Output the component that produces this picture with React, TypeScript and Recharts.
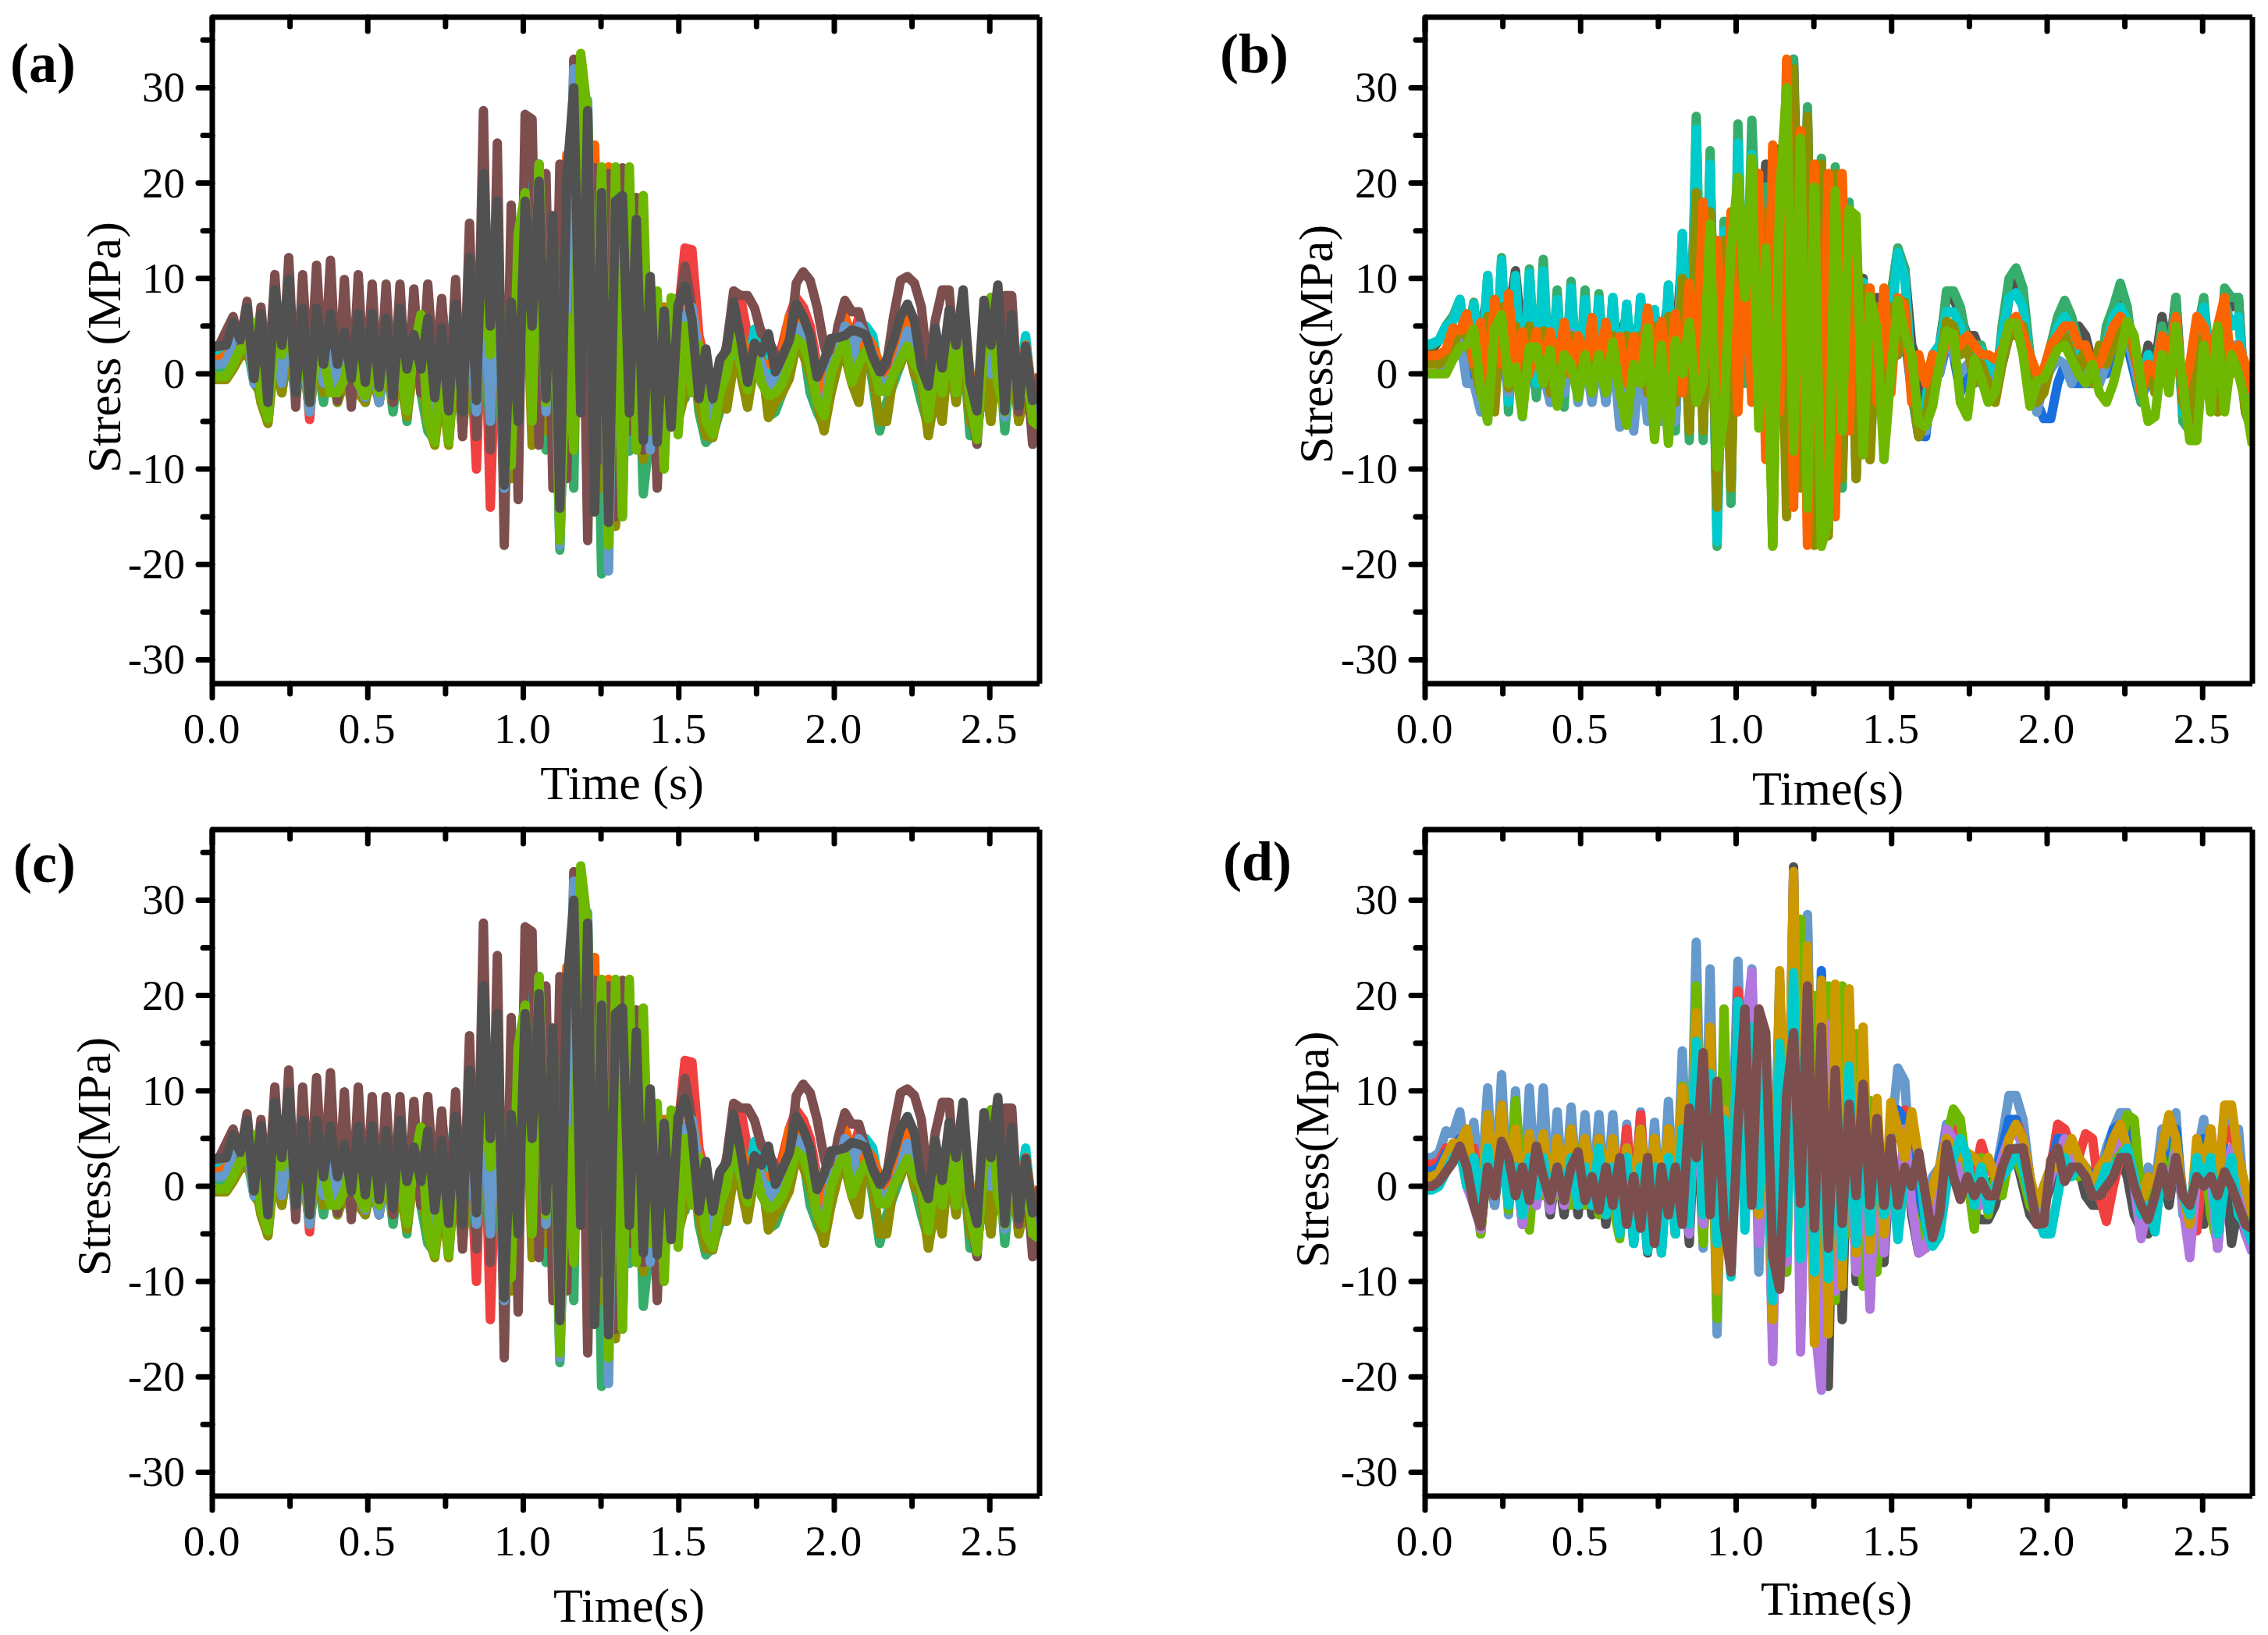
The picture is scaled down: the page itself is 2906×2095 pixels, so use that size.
import { LineChart, Line, XAxis, YAxis } from "recharts";

// sampled every TIME_END/119 s, six rows of twenty readings per series
const TIME_END = 2.66;
const xTicks = [0, 0.25, 0.5, 0.75, 1, 1.25, 1.5, 1.75, 2, 2.25, 2.5];
const yTicks = [-30, -25, -20, -15, -10, -5, 0, 5, 10, 15, 20, 25, 30, 35];

const BLUE = "#1a6fdf", RED = "#f14040", SEA = "#37ad6b", PURPLE = "#b177de", GOLD = "#cc9900";
const CYAN = "#00cbcc", BROWN = "#7d4e4e", OLIVE = "#8e8e00", ORANGE = "#fb6501", STEEL = "#6699cc";
const LIME = "#6fb802", GRAY = "#515151";

// panels (a) and (c)
const aRed = [
  2.3,2.3,2.5,4,4,5,1,3,-1,5,-1,5,-1,5,-4.8,4,7,-1,5,0,
  -2,4,-1,3,-2,4,-1,3,-2,3,0,3,-1,4,0,3,-1,5,-10,12,
  -14,10,-12,5,10,12,3,17,-3,12,-8,20,-5,26,-6,20,-9,17,-10,15,
  -4,12,-5,8,-3,6,-2,6,13.2,13,4,1,-6.5,-2,3,7,8,4,3,1,
  -1,1,3,6,8,7,5,1,-4,0,2,3,3,6,3,2,-1,-1,1,3,
  6,4,1,-3,2,0,4,1,5,-1,-5,3,1,5,-1,4,-2,2,-2,-3,
];
const aSea = [
  1,.5,1,2,2.5,3,-1,-2,-5.2,3,-2,3,-2.6,2,-4,2,-3,2,-3,1,
  -3,1,-3,2,-3,2,-4,2,-5,3,-2,-6,-7,2,-7,2,-6,3,-6,8,
  -7,7,-13,-6,2,14,-2,12,-8,11,-18.5,8,-12,30,-15,18,-21,15,-15.6,10,
  -8.1,10,-12.6,-6,4,-6,5,-3,-2.6,4,-4,-7.2,-6.4,-4,-3,2,2,-3.5,4,2,
  -4.5,-4,-2,0,4,3,-2,-4,-5.5,-2,1,3,0,5,3.5,-1,-6,-3,-1,1,
  3,0,-3,-5.5,-3,-4,2,-3,3,-6.5,-6.5,0,-5,4,-6,2,-5,0,-6,-6,
];
const aCyan = [
  1.9,1.9,2,2.5,4,5,1,3,0,4,0,5,1,3,1,3,0,3,4.3,2,
  4,1,1,2,1,2,1,3.5,1,2,1,3,2,7.2,1,3,1,3,1,7.5,
  1,6,-5,1,8,9,20,22,8,10,-3,15,-7,30,-5,21,-5,21,-3,15,
  0,10,-3,9.2,-3,7,-1,5,3,5,1,0,-5,-1,0,4,3.5,0,4.7,4.5,
  0,-1,0,3,5,5,3,1,-1,1,2.5,3,3,4,5,4,0,-2,1,3,
  7.3,5,1,-1,3,1,5,1,6,0,-3,4,1,5,-3,5,-1,4,-3,-5,
];
const aOlive = [
  -.6,-.6,-.6,.5,1.8,2,1,-3,-5.2,2,-2,3,-2,2,-4,2,-2,1,-3,-1,
  0,-2,-3,0,-3,1,-3,-.5,-4.5,1,0,-5,-7.5,-1,-7.5,2,-6,2,-4,7,
  -5,8,-10,-11,6,15,-7.5,14,-6,10,-12,9,-8,24,-9,17,-12,15,-16,8,
  -4,6,-9,-5,2,-8,3,-5,-2,4,-3,-6.5,-6.7,-3,-3.7,1,0,-3.5,1,1.5,
  -4.6,-3,-2,-.5,3,2,0,-3,-6,-2,1,2,-1,-3,4,0,-5,-5,0,1,
  3,0,-1,-6.5,-2,-5,3,-3,3,-5,-6,0,-5,3,-3,3,-5,-2,-5,-6,
];
const aOrange = [
  1.5,1.5,2,3.5,5,4,4,0,1,6.5,0,6,2,6,1,5,1,5,2,5,
  1,5,0,3,2,3,1,4,1,5,3,4,1,5,1,4,-2,8,0,17,
  -3,16,-10,5,0,17,10,20,-3,11,-8,23,-5,31,-6,24,-7,21.7,-13,20,
  -5,15,-5,8,-3,7,-4,8,3,7.5,3,2,-5,0,2,5,4,2,3,1,
  1,1.5,2,6,6,5,3,1,-2,1,3,6,4,3,4,3,1,0,1,3,
  6,4,2,-2,3,1,5,2,7,0,-3,4,1,5,-2,5,-2,3,-2,-3,
];
const aBrown = [
  2.7,3,4.5,6,3,7.6,0,7,-1,10.4,-1,12.2,-3.5,10.4,-2,11.4,-1,11.9,-2.8,9.9,
  -3.5,10.4,-2.5,9.4,-3,9.4,-3,9.4,-3,8.9,-2,9.4,-1,7.9,-3,9.9,-6.6,15.8,-6.6,27.6,
  -8,24.2,-18,17.7,-13.2,27.2,26.7,-7.5,21,-12,22,-11,33,26,-17.5,21.6,-9,21,-15,21.6,
  -6,18.5,-8,7,-12,6,-4,6.5,11.3,7,1,2.5,-5.5,0,3,8.7,8.2,8.2,6.9,4.2,
  3.5,2,1.8,3,9.5,10.7,9.8,7,3,.5,5,7.7,6.5,6.5,4,2,0,1,6,9.8,
  10.2,9.5,7,0,5.6,8.8,8.8,-1,6.7,-3,-7.4,3,8,0,8.2,8.2,-4,2,-7.4,0,
];
const aSteel = [
  1,1,1.2,3.5,4,5,-1,-1,-4,4,-1,6,-2,3,-4,3,-1,3,-1.5,1,
  2,-1,-2.5,2,-3,3,-2,3,-3,3,3,-1,-4,3,-5,4,-3,7,-4,12,
  -5,14,-12,-3,3,15,-1,22,-4,16,-18,8,32,-3,28.7,-12,21,-20.7,19,-15,
  18,-5,16,-8,8,-8,7,-6,6,7,2,-3,-5,-2,1,6,3,-1,3,1,
  -2,0,1,3,5,4,2,-3,-4,1,2,5,1,5,4,2,-1,-1,0,2,
  4.5,3,0,-3,2,0,6,-1,7,-3,-5,5,0,7,-4.5,5,-3,2,-4,-4.5,
];
const aLime = [
  -.3,-.3,-.3,1,2.6,2.6,5.4,-2.3,-4.7,3.5,2,7.5,-1.4,2.9,-3,1.8,1.8,-2,-2,-.6,
  2.9,-1,-2.3,1,-2,2,-1.5,1,-3.9,2.4,6.2,-5,-7.2,3,-7.2,4,-3,6.7,3,10,
  2,15.5,-9,-9.6,14.7,19,-5,22,-3,16,-17.5,6,-8,33.6,27.2,-8,21.7,-18,21.7,-15,
  21.7,-8,18.7,-6,8.7,-10,8,-6.4,5,-2,3,-5,-6.4,-2,0,5,1,-1.7,2,-1,
  -2.3,-2,-1,1,3.7,3,1,-3,-4.4,0,2,3.6,-.9,1,2.4,1,-1.85,-1.85,0,1.5,
  2.9,1,0,-4.7,1,-2,3,-2,5,-3,-6.9,2,8,-1,-4,3,-2,1,-5,-5.5,
];
const aGray = [
  2.9,2.9,3,5.4,3.6,6.9,-.5,6.3,-3,8.8,3,9.9,-2,6.9,-3,6.9,1,6.3,1,4.4,
  -.5,6.3,-.9,6.3,-1.4,5.8,-2.3,6.9,.5,4.1,.5,5.8,-2.5,4.8,-3.9,7.3,-4,12.2,-2.8,21,
  5,18.1,-11.7,7.5,-5,18.1,5,20.2,-2.6,16.6,-14.1,20.6,30,-4.1,27.6,-14.5,19,-15.6,18.1,18.7,
  -4.1,16.2,-7,10.2,-7.2,6.6,-5.6,7.2,9.2,5.7,-2.6,2.6,-2.6,1.5,2.5,7.5,3.7,-.9,3.2,2.2,
  4.2,.2,1.8,3.5,7.3,6,4,-.35,1.3,3.7,3.8,4,4.6,4.4,4.1,1.8,.2,1.5,3.5,6,
  7.3,5.6,.7,-1.3,4.8,.6,6.7,3,8.8,-.9,-3.9,7.7,3,9.3,-3.9,6.2,-3.4,2.9,-2.8,-2.3,
];

// panel (b)
const bBlue = [
  0,0,0,1,2.5,3,0,-1,-3,3,-1,3,-2,2,-3,2,-2,2,-2,2,
  -1,2,-2,2,-2,2,-2,3,-3,3,-3,6.9,-4,3,-5,5,-3,6,-4,12,
  -3,14,-14,6,-7,16,12,16,9,13,-10,14,-8,18,-8,19,-10,16,-9,15,
  -8,12,-7,6,-4,4,-3,4,2,4,-2,-6.5,-6.6,0,0,3,2,-2,0,0,
  -1,-1,-1,1,4,5,3,-1,-3,-4.7,-4.7,-1,1,-1,-1,-1,-1,0,0,2,
  3,3,0,-3,0,-1,2,-1,4,-2,-4,1,4,-1,-2,3,2,2,-3,-4,
];
const bGray = [
  2,2.5,3.5,5,6,6.5,5,6,5,8,4,9,6,10.8,3,8.9,3,8.4,2,6,
  2,6,2,6.3,2,6,2,6.3,3,6.3,2,6,3,5.5,3,7.8,2,13.3,3,21,
  3,21,-6,14,11,15,9.5,18,9,22,-4,23.6,-5,33,5,27,-7,22.5,-8,20,
  3,17,3,10,-2,8,0,8,13,11,3,1,-4,2,3,8,8,6,4,4,
  2,1,0,3,8,10,7,2,-3,0,3,5,5.5,4,5,4,1,1,4,6,
  8,6,3,-1,3,1,6,2,8,-3,-4,4,7,1,-2,8,7,8,-4,-6,
];
const bSea = [
  2.9,3,3.5,5,6,7.8,3,7.5,-1,10.3,-3,12.2,-4,10.3,-4.5,11,-2.5,12,-3,8.8,
  -3.5,9.7,-3,8.8,-2.8,8.4,-3,8,-3,7.3,-3,8,-3,6.7,-5,9.3,-6,14.7,-7,27,
  -7,23.4,-18.1,16,-13.6,26.2,-1,26.6,8,19.6,-18,21.5,-12,33,-10,28,-17,22.6,-14,21.7,
  -12,18,-11,9.6,-9,7,-6,8,13.2,11,-2,-6.6,-5,1,2,8.7,8.7,7,3,3,
  3,0,-2,5,10,11.1,9,2,-4,0,3,6,7.7,6,3,3,-1,-1,5,7,
  9.5,7,1,-3,2,0,5,1,8,-5,-6,4,8,0,-3,9,8,8,-4,-6,
];
const bCyan = [
  3,3.2,3.5,5,5.5,7.8,2,7.3,0,10.3,-2,11.9,-3,10.3,-3.5,10.6,-1,10.8,-2,7.8,
  -2,9,-2,7.8,-2,7.8,-2,8,-2,7.3,-2,8,-2,6.7,-3,9.3,-5,14.7,-5,25.7,
  -6,22,-17.6,15,-12,24.2,2,23,10,16,-14,20,-10,25,-8,24,-13,19,-10,17,
  -9,14,-8,9.6,-5,6,-4,5,12.7,10,0,-5,-3,2,3,6.5,6.5,5,2,2.5,
  2.5,1,-1,4,8,8.5,7,1,-3,0,2,5,6,4.5,2,2,-.5,-.5,3,6,
  7,5.5,1,-2,2,-1,4,1,6,-4,-5,3,7,0,-2,7.5,5,6,-3,-5,
];
const bSteel = [
  0,0,0,1.5,3,4,-1,-1,-4,1,3,4,-2,2,-3,2,4.5,0,-3,2,
  -2,4.3,-3,2,-3,2,-3,3,-5.6,1,-6,2,-5,3,-5,6,-5,8,-5,15,
  -5,14,-14,8,-5,17,11,17,10,14,-12,16,-8,20,-8,21,-10,18,-9,16,
  -8,14,-7,7,-3,5,-3,5,3,5,-1,-5.5,-6,1,0,4,2,0,1,1,
  0,-1,-1,2,5,6,4,0,-4,-1,.5,1.5,1,-1,1,0,-1,-1,1,3,
  5,4,1,-2,1,0,3,0,5,-3,-4,2,5,0,-1,4,3,3,-2,-4,
];
const bOlive = [
  1,1,1,2,3,4.5,4,1,-2,6,-4,7,-1.5,5,-3,5,1,4.5,-2,3,
  0,4,0,3,-1,3,-1,4,0,4,-1,4,-2,5,-3,6,-3,10,-6,19,
  -6,17,-14,14,-12,17,13,20,6,17,-18,18,-15,32,-12,27,-18,22,-17,21,
  -11,17,-11,9,-9,7,-2,7,2,7.5,-1,-6.6,-5,0,1,5.5,5,2,3,-1,
  1,-1,-3,1,4,4,5,1,-3,-2,1,3,4,2,0,3,-1,3,1,3,
  6,5,2,-1,0,-2,3,1,6,-3,-5,2,4,-2,-4,6,0,2,-4,-6,
];
const bOrange = [
  1.9,1.9,2,2.5,4.8,4.5,6.3,1,5.4,-1,7.8,1,8.4,0,4.4,0,4.4,0,4.4,1,
  5.4,0,4,0,5.9,0,5.4,0,3.9,-1,3.9,0,6.9,0,5.5,-1,6.3,-2,9.5,0,
  18,1,14,-2,17,-4,14,-3,21,-9,24,-4,33,-14,25.5,-18,22,-17,21,-15,
  21,-6,15,-5,9,-3,9,-2,8,7,-3,2,-1,2,1,3.5,4,3,4,3,
  2,2,1.5,2.5,5,6,4,2,0,.5,3,4,5,5,3,3,1,1,3,5,
  6,5,3,-2,1,0,4,1,6,-2,1,6,5,2,5,8,0,3,1,-2,
];
const bLime = [
  0,0,0,0,1.5,2.8,3,4.7,-1.7,-5,4.8,6.2,-1,.7,-4.4,2.8,2.8,-1,2.5,-3.4,
  2,1,-2.5,2,-2,2,-2,3.3,-2,-5.4,1,-1,4.8,-6.9,3,-7.3,3.5,0,5.4,-3,
  -1,15.7,-9.8,-4.5,13,20.6,8,22.6,-5.7,13.2,-18.1,18.7,30,-8.1,24.7,-14.1,19.6,-18.1,-15.5,19.2,
  -6,17.2,16.6,-8.5,8.1,4.7,-9,0,7.7,4.2,2,-5.1,-5.5,-3.4,1,4.5,4.2,-3,-4.5,1.5,
  -.5,-3,-1.9,2,5.3,5.3,2,-3.4,-.75,-.5,1,2.6,3,1.5,0,-1,1,-2,-3,-1,
  2,5.5,4,-1,-5,-4.5,2,-2,5,-1,-7,-7,3,-4,5,-4,2,0,-3,-7.5,
];

// panel (d)
const dGray = [
  1,1,2,3,4,5,0,2,-5,3,-2,5,-2,3,-4,3,-2,3,-3,2,
  -3,3,-3,3,-3,3,-4,3,-5,4,-6,3,-7,3,-7,4,-5,6,-6,10,
  -6,10,-10.5,8,-9,18,14,19,-3,14,-11,19,-9,33.5,-8,28,-15,20,-21,15,
  -14,12,-10,7,-12,6,-8,3,-4,5,-3,-7,-6.5,-3,0,5,3,-1,2,-3,
  -3.5,-3.5,-2,1,4,3,0,-3,-4,-2,0,2,3,2,2,-1,-2,-2,1,1,
  3,1,-3,-4.5,-5,-3,1,-2,3,-2,-6,2,-4,3,-6.5,2,-6,-2,-5,-6.5,
];
const dSteel = [
  3,3,3.5,5.8,5.5,7.8,2,6.7,-1,10.3,-2,11.7,-3,10,-3,10.3,-2,10.3,-2,7.8,
  -2,8.3,-2,7.5,-2,7.5,-2,7.5,-3,6.5,-3,7.8,-4,6.7,-4,8.9,-5,14.2,-5,25.6,
  -6.5,22.8,-15.5,15.3,-1,23.6,1,22.8,-9,15,-13,19,-8,27,-7,28.5,-10,15,-12,17,
  -7,10,-6,7,-3,6,-3,5,12.4,11,0,-3,-5,1,2,6.5,6.5,4,2,2,
  1,0,1,5,9.5,9.5,7,1,-3,-1,2,4,5,3,3,2,1,1,4,6,
  7.7,7.7,2,-3,2,0,6,1,7.7,-3,-4,3,7,0,-3,7,6,6,-3,-5,
];
const dRed = [
  2.3,2.3,2.6,4,4,5,1,4,-2,6,-1,6,-2,4,-3,4,-1,4,-1,4,
  -1,4,-1,4,-2,5,-1,4,-2,6,-2,7.5,-3,5,-4,6,-3,9,-4,14,
  -4,13,-8,10,-6,20.5,15,18,-2,13,-8,18,-5,24,-5,22,-10,18,-13,15,
  -8,12,-6,8,-4,5,-2,6,5,8,1,-5,-4,0,2,5,6,5,2,1,
  4.5,2,1,2,6,7,5,1,-3,-1,2,6.5,6,4,3,5.5,5,-1,-3.7,0,
  3,4,1,-3,1,-1,3,0,5,-2,-4.7,-4.7,3,6,0,5,6,2,-3,-4,
];
const dBlue = [
  1.6,1.6,2,3.5,3.5,5,1,3,-1,5,0,8.5,-1,4,-2,4,-1,5,-2,4,
  -1,4,-1,4,-2,5,0,4,-1,4,-1,6,-2,4,-2,5,-3,7,-3,18.5,
  -3,16,-8,8,-6,19,14,15,-2,12,-7,21.5,-5,23,-5,20,-10,22.6,-12,18,
  -8,14,-6,9,-2,6,-1,5,8,7,0,-4,-5,-1,1,6,5,2,1,0,
  1,0,1,4,7,7,4,0,-2,0,2,5,5,3,2,2,1,1,3,6,
  6.5,6,1,-2,1,0,4,1,6,-1,-3,3,5,1,-1,4,3,3,-2,-4,
];
const dLime = [
  0,0,.5,2,2.5,4,0,2,-5,3,1,5,-2.5,9,0,-4.6,4,-1,3,-1,
  3,-2,4,-2,3,-3,2,-2,-5.5,3,-4,4,-5,5,-3,6,-3,10.5,-4,21,
  -6,14,-13.9,18.6,-8,16,14,17,-3,12,-16.5,19,-9,24,28,-6,20,-18.4,21,-12,
  21,-5,16,-10.5,9,-9,4,3,-3,6,-2,-5,-6,-5.5,1,5,8.1,7,1,-4.5,
  3,-3,1,-1,3,3,1,-2,-3,-1,1,4,3,3,1,2,-1,0,1,2,
  4,7.5,7,-1,0,-2,3,0,5,-2,-5,2,4,-3,-6,3,3,0,-3,-5,
];
const dPurple = [
  .4,.4,1,2.5,3.5,4.5,0,-2,-4.5,4,-1,8,-2,3,-4,3,-2,3,-2.5,3,
  -2,3,-2,3,-2,3,-3,3,-4,4,-4,3,-6,3,-6,4,-3,7,-5,13,
  -4,15,-11,8,-7,18,16,22.5,-6,13,-18.4,15,-8,33,-17.4,13,-14,-21.4,17,-11,
  -8,10,-9,7,-12.9,6,-7,4,-3,6,-2,-7,-6.5,-3,0,6,5,0,1,-1,
  -2,-1,0,3,5,6,4,0,-4,-2,1,3,5,3,2,2,-1,0,3,4,
  5,4,0,-5.5,-2,-4,2,-1,4,-2,-7.5,1,2,1,-6.5,1,4,0,-5,-7,
];
const dGold = [
  1,1,1.4,3,4.5,4.5,6,1,-2,7.5,0,8.5,-1,6,-2,5.5,-1,5.5,-1,5,
  0,6,-1,5,-1,5,0,5,-1,4,-1,6,-2,5,-2,6,-1,10.3,-2,18.2,
  -3,16.7,-11,8,-5,14,11,14,-3,12,-14,22.6,-7,33,-7.4,25.2,-16.5,21.6,-15.5,21.2,
  -10.5,20.7,-7,16.7,-6.7,9.2,-5,8.8,6.1,3,7.8,3,-3,0,2,5,4,3,3.5,3,
  2,3,1,1,5,6.5,5,1,-2,0,2,2,3,5,3,2,0,2,3,5,
  6.5,4,1,-2,1,0,4,7.5,5,-1,-4,5,1,6,-1,8.5,8.5,3,0,-3,
];
const dCyan = [
  -.4,-.4,0,1.5,3,3.8,0,3,-2,4,-1,4,-2,2,-3,3,-1,3,-1.5,2,
  -1,3,-2,2,-2,4,-3,2,-5,3,-6,2,-6.8,2,-7,3,-5,6,-4,15.2,
  -3,11.8,-6,7,-9.5,19.4,-4.6,16.7,-2,14,-12,15,-7,22.4,-7.6,18.6,-9,14,-9.7,10.7,
  -7.4,12.6,-6,8.8,-4.8,5.6,-3,3,-5.6,1.2,0,3.5,-4,-6.3,-5.2,0,3,5,3,-2,
  2,-2.5,0,1,2,4,2,-1,-3,-5,-5,-1,3,1,2,1,-1,0,2,2,
  3,4,1,-3,-2,-4.8,2,-1,3,-1,-3,3,0,3,-5,0,3,-3,-4,-6,
];
const dBrown = [
  0,0,.5,1.5,2.5,4.2,2,-2,-4.2,2,-1,4.7,3,-1,2,-1.5,4.2,1,-1.5,2,
  -1.5,2,3.6,-1.5,1,-2.5,2,-2,3,-4,1,-4.4,3,-6,2,-3,2,-4,8.2,3,
  14,-3,11,-4,-9,6.5,18.6,-2,18.6,16.1,-7.4,-10.8,9.5,16.1,-1.8,21,-4.4,16.7,-6.5,12.2,
  -3.9,8.6,-1,10.7,-2,7.1,-2,5,-2,2,0,3.5,-1,-5.4,-3,4.4,1,-1.4,1,-1,
  .5,-1,-1,2,3.9,3.9,4,0,-4,-3.9,2.7,4,.5,2,2,1,-1,-1,0,1,
  3,3,0,-2,-3.5,-1,2,-1,3,-1,-2,1,0,1,-1,1.5,0,-2,-4,-4.5,
];

const seriesA: [number[], string][] = [[aRed, RED], [aSea, SEA], [aCyan, CYAN], [aOlive, OLIVE], [aOrange, ORANGE], [aBrown, BROWN], [aSteel, STEEL], [aLime, LIME], [aGray, GRAY]];
const seriesB: [number[], string][] = [[bBlue, BLUE], [bGray, GRAY], [bSea, SEA], [bCyan, CYAN], [bSteel, STEEL], [bOlive, OLIVE], [bOrange, ORANGE], [bLime, LIME]];
const seriesD: [number[], string][] = [[dGray, GRAY], [dSteel, STEEL], [dRed, RED], [dBlue, BLUE], [dLime, LIME], [dPurple, PURPLE], [dGold, GOLD], [dCyan, CYAN], [dBrown, BROWN]];

const buildRows = (series: [number[], string][]) =>
  series[0][0].map((_, i) => {
    const row: Record<string, number> = { t: (i * TIME_END) / 119 };
    series.forEach(([vals], k) => { row["s" + k] = vals[i]; });
    return row;
  });

const FONT = "'Liberation Serif', serif";
const isMajorX = (v: number) => Math.abs(v * 2 - Math.round(v * 2)) < 1e-6;
const isMajorY = (v: number) => v % 10 === 0;

const BottomTick = ({ x, y, payload }: any) => {
  const major = isMajorX(payload.value);
  return (
    <g>
      <line x1={x} x2={x} y1={y} y2={y + (major ? 18 : 13)} stroke="#000" strokeWidth={7} strokeLinecap="round" />
      {major && <text x={x} y={y + 76} textAnchor="middle" letterSpacing={2} fontFamily={FONT} fontSize={55} fill="#000">{payload.value.toFixed(1)}</text>}
    </g>
  );
};
const LeftTick = ({ x, y, payload }: any) => {
  const major = isMajorY(payload.value);
  return (
    <g>
      <line x1={x} x2={x - (major ? 18 : 12)} y1={y} y2={y} stroke="#000" strokeWidth={7} strokeLinecap="round" />
      {major && <text x={x - 35} y={y + 18} textAnchor="end" fontFamily={FONT} fontSize={55} fill="#000">{payload.value}</text>}
    </g>
  );
};
const TopTick = ({ x, y, payload }: any) => (
  <line x1={x} x2={x} y1={y} y2={y + (isMajorX(payload.value) ? 18 : 12)} stroke="#000" strokeWidth={7} strokeLinecap="round" />
);
const RightTick = ({ x, y, payload }: any) => (
  <line x1={x} x2={x - (isMajorY(payload.value) ? 18 : 12)} y1={y} y2={y} stroke="#000" strokeWidth={7} strokeLinecap="round" />
);

type PanelProps = {
  left: number; top: number; series: [number[], string][];
  tag: string; tagX: number; tagY: number;
  yTitle: string; yTitleX: number; yTitleY: number;
  xTitle: string; xTitleX: number; xTitleY: number;
};

function Panel({ left, top, series, tag, tagX, tagY, yTitle, yTitleX, yTitleY, xTitle, xTitleX, xTitleY }: PanelProps) {
  const axisLine = { stroke: "#000", strokeWidth: 7 };
  const tickProps = { tickLine: false, tickSize: 0, tickMargin: 0, interval: 0 as const, axisLine };
  return (
    <div style={{ position: "absolute", left, top }}>
      <LineChart width={1352} height={1054} data={buildRows(series)} margin={{ top: 0, right: 0, bottom: 0, left: 0 }}>
        <XAxis dataKey="t" type="number" domain={[0, TIME_END]} ticks={xTicks} height={178} tick={BottomTick} allowDataOverflow {...tickProps} />
        <XAxis xAxisId="top" orientation="top" dataKey="t" type="number" domain={[0, TIME_END]} ticks={xTicks} height={22} tick={TopTick} {...tickProps} />
        <YAxis type="number" domain={[-32.5, 37.4]} ticks={yTicks} width={272} tick={LeftTick} allowDataOverflow {...tickProps} />
        <YAxis yAxisId="right" orientation="right" type="number" domain={[-32.5, 37.4]} ticks={yTicks} width={20} tick={RightTick} {...tickProps} />
        {series.map(([, color], k) => (
          <Line key={k} dataKey={"s" + k} stroke={color} strokeWidth={12} strokeLinejoin="round" dot={false} isAnimationActive={false} />
        ))}
        <text x={tagX} y={tagY} fontFamily={FONT} fontWeight="bold" fontSize={72} fill="#000">{tag}</text>
        <text x={yTitleX} y={yTitleY} transform={`rotate(-90 ${yTitleX} ${yTitleY})`} textAnchor="middle" dominantBaseline="central" fontFamily={FONT} fontSize={62} fill="#000">{yTitle}</text>
        <text x={xTitleX} y={xTitleY} textAnchor="middle" dominantBaseline="central" fontFamily={FONT} fontSize={62} fill="#000">{xTitle}</text>
      </LineChart>
    </div>
  );
}

export default function App() {
  return (
    <div style={{ position: "absolute", left: 0, top: 0, width: 2906, height: 2095, background: "#fff", overflow: "hidden" }}>
      <Panel left={0} top={0} series={seriesA} tag="(a)" tagX={13} tagY={105} yTitle="Stress (MPa)" yTitleX={133} yTitleY={445} xTitle="Time (s)" xTitleX={797} xTitleY={1003} />
      <Panel left={1554} top={0} series={seriesB} tag="(b)" tagX={9} tagY={93} yTitle="Stress(MPa)" yTitleX={132} yTitleY={441} xTitle="Time(s)" xTitleX={788} xTitleY={1010} />
      <Panel left={0} top={1041} series={seriesA} tag="(c)" tagX={17} tagY={89} yTitle="Stress(MPa)" yTitleX={120} yTitleY={441} xTitle="Time(s)" xTitleX={806} xTitleY={1016} />
      <Panel left={1554} top={1041} series={seriesD} tag="(d)" tagX={13} tagY={87} yTitle="Stress(Mpa)" yTitleX={127} yTitleY={432} xTitle="Time(s)" xTitleX={799} xTitleY={1007} />
    </div>
  );
}
